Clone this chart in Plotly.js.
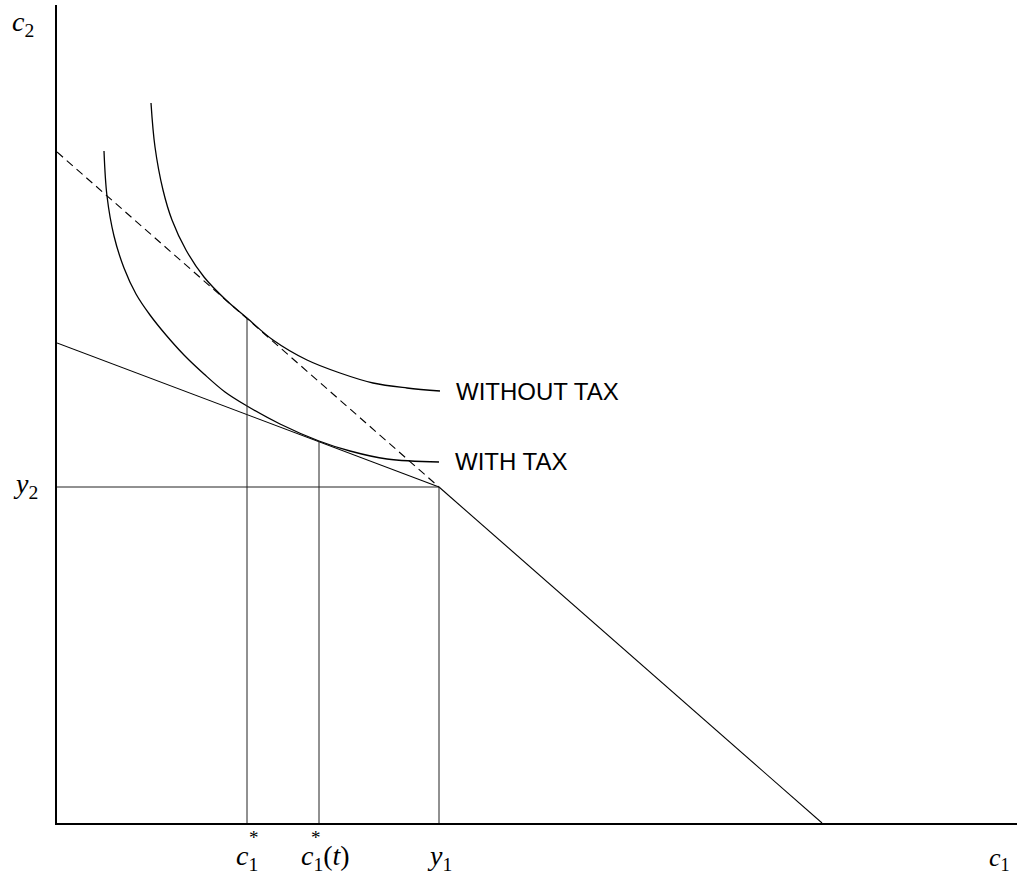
<!DOCTYPE html>
<html>
<head>
<meta charset="utf-8">
<script src="https://cdn.plot.ly/plotly-3.0.1.min.js"></script>
<style>
  html, body { margin: 0; padding: 0; background: #fff; }
  #chart { width: 1017px; height: 878px; }
</style>
</head>
<body>
<div id="chart"></div>
<script>
// Indifference curve without tax (c1, c2)
const withoutTaxX = [94, 98, 106, 115, 129, 147, 169, 190, 216, 250, 283, 316, 350, 383];
const withoutTaxY = [720, 676, 633, 603, 573, 546, 523, 505, 483, 463, 450, 440, 435, 432];

// Indifference curve with tax (c1, c2)
const withTaxX = [47, 50, 57, 67, 79, 93, 109, 127, 147, 168, 190, 223, 262, 293, 330, 382];
const withTaxY = [672, 627, 587, 555, 529, 508, 488, 468, 449, 431, 417, 399, 382, 372, 364, 361];

// Budget line without tax: c2 intercept, endowment, c1 intercept
const budgetNoTaxX = [0, 382, 765];
const budgetNoTaxY = [671, 336, 0];

// Budget line with tax: c2 intercept, endowment
const budgetTaxX = [0, 382];
const budgetTaxY = [480, 336];

// Vertical guides: c1*, c1*(t), y1 and their tops
const guideX = [190, 262, 382];
const guideTop = [505, 382, 336];
const guideLabels = ['<i>c</i><sub>1</sub>', '<i>c</i><sub>1</sub>(<i>t</i>)', '<i>y</i><sub>1</sub>'];
const guideStars = [true, true, false];

// Horizontal guide y2
const y2Value = 336;
const y2Label = '<i>y</i><sub>2</sub>';

// Axis labels and curve labels
const axisLabels = ['<i>c</i><sub>1</sub>', '<i>c</i><sub>2</sub>'];
const curveLabels = ['WITHOUT TAX', 'WITH TAX'];

const black = '#000';
const traces = [];

traces.push({x: withoutTaxX, y: withoutTaxY, mode: 'lines', line: {color: black, width: 1.3, shape: 'spline', smoothing: 1}, hoverinfo: 'skip'});
traces.push({x: withTaxX, y: withTaxY, mode: 'lines', line: {color: black, width: 1.3, shape: 'spline', smoothing: 1}, hoverinfo: 'skip'});

// dashed part of the no-tax budget line (above endowment)
traces.push({x: budgetNoTaxX.slice(0, 2), y: budgetNoTaxY.slice(0, 2), mode: 'lines', line: {color: black, width: 1.1, dash: '8px,5px'}, hoverinfo: 'skip'});
// solid part (below endowment)
traces.push({x: budgetNoTaxX.slice(1), y: budgetNoTaxY.slice(1), mode: 'lines', line: {color: black, width: 1.1}, hoverinfo: 'skip'});
// with-tax budget line
traces.push({x: budgetTaxX, y: budgetTaxY, mode: 'lines', line: {color: black, width: 1.1}, hoverinfo: 'skip'});

// vertical guides
guideX.forEach((gx, i) => {
  traces.push({x: [gx, gx], y: [0, guideTop[i]], mode: 'lines', line: {color: '#222', width: 1}, hoverinfo: 'skip'});
});
// horizontal y2 guide
traces.push({x: [0, budgetNoTaxX[1]], y: [y2Value, y2Value], mode: 'lines', line: {color: '#222', width: 1}, hoverinfo: 'skip'});

const serif = {family: 'Liberation Serif, Times New Roman, serif', size: 28, color: black};
const serifSmall = {family: 'Liberation Serif, Times New Roman, serif', size: 26, color: black};
const sans = {family: 'Liberation Sans, Arial, sans-serif', size: 24, color: black};

const annotations = [];
guideX.forEach((gx, i) => {
  annotations.push({x: gx, y: 0, xref: 'x', yref: 'y', text: guideLabels[i], showarrow: false, font: serif,
    xanchor: i === 1 ? 'left' : 'center', xshift: i === 1 ? -20 : 0, yanchor: 'top', yshift: -15});
  if (guideStars[i]) {
    annotations.push({x: gx, y: 0, xref: 'x', yref: 'y', text: '*', showarrow: false,
      font: {family: serif.family, size: 19, color: black}, xanchor: 'center', xshift: (i === 1 ? -10 : 0) + 7, yanchor: 'top', yshift: -2});
  }
});
annotations.push({x: 0, y: y2Value, xref: 'x', yref: 'y', text: y2Label, showarrow: false, font: serif, xanchor: 'right', xshift: -17, yanchor: 'middle', yshift: 2});
annotations.push({x: 1, y: 0, xref: 'paper', yref: 'paper', text: axisLabels[0], showarrow: false, font: serifSmall, xanchor: 'right', xshift: -5, yanchor: 'bottom', yshift: -54});
annotations.push({x: 0, y: 1, xref: 'paper', yref: 'paper', text: axisLabels[1], showarrow: false, font: serif, xanchor: 'right', xshift: -21, yanchor: 'top', yshift: 1});
annotations.push({x: withoutTaxX[withoutTaxX.length - 1], y: withoutTaxY[withoutTaxY.length - 1], xref: 'x', yref: 'y', text: curveLabels[0], showarrow: false, font: sans, xanchor: 'left', xshift: 14, yanchor: 'middle', yshift: 0});
annotations.push({x: withTaxX[withTaxX.length - 1], y: withTaxY[withTaxY.length - 1], xref: 'x', yref: 'y', text: curveLabels[1], showarrow: false, font: sans, xanchor: 'left', xshift: 14, yanchor: 'middle', yshift: 1});

const layout = {
  width: 1017, height: 878,
  margin: {l: 57, r: 0, t: 5, b: 55, pad: 0},
  paper_bgcolor: '#fff', plot_bgcolor: '#fff',
  showlegend: false,
  xaxis: {range: [0, 960], showgrid: false, zeroline: false, showticklabels: false, ticks: '', showline: true, linecolor: black, linewidth: 2, fixedrange: true},
  yaxis: {range: [0, 818], showgrid: false, zeroline: false, showticklabels: false, ticks: '', showline: true, linecolor: black, linewidth: 2, fixedrange: true},
  annotations: annotations
};

Plotly.newPlot('chart', traces, layout, {staticPlot: true, displayModeBar: false});
</script>
</body>
</html>
